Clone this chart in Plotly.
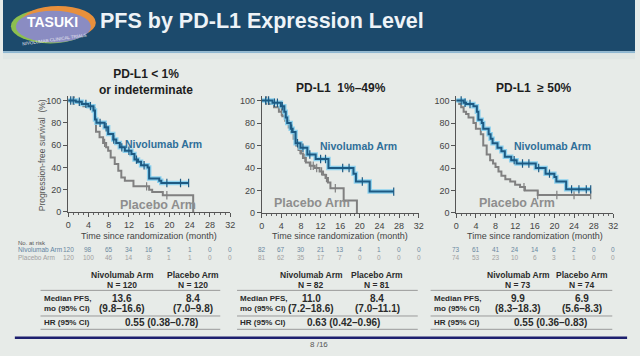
import numpy as np
import plotly.graph_objects as go

W, H = 640, 356
FONT = "Liberation Sans"

# ---------------- data ----------------
tick_months = [0, 4, 8, 12, 16, 20, 24, 28, 32]
y_ticks = [0, 20, 40, 60, 80, 100]

panel_titles = ["<b>PD-L1 < 1%</b><br><b>or indeterminate</b>", "<b>PD-L1  1%–49%</b>", "<b>PD-L1  ≥ 50%</b>"]

# Panel 1: PD-L1 < 1% or indeterminate
p1_nivo_t = [0, 1.5, 2.7, 4.0, 5.0, 5.3, 5.6, 7.2, 7.9, 8.9, 9.5, 10.2, 11.2, 12.5, 13.1, 13.8, 14.4, 15.7, 16.0, 18.0, 18.4, 23.8]
p1_nivo_s = [100, 99, 97, 95, 91, 83, 80, 76, 70, 65, 62, 58, 55, 52, 47, 45, 42, 40, 30, 28, 26, 26]
p1_plac_t = [0, 1.8, 3.0, 4.6, 5.3, 5.5, 6.2, 6.9, 7.5, 7.9, 8.4, 9.2, 9.9, 10.5, 11.2, 12.9, 16.0, 16.6, 18.7, 24.7]
p1_plac_s = [100, 98, 95, 93, 85, 72, 67, 62, 58, 55, 49, 43, 37, 31, 28, 23, 20, 18, 15, 0]
p1_nivo_cens = [0.5, 1.0, 2.2, 3.5, 4.4, 6.3, 7.5, 9.0, 10.6, 12.0, 13.5, 15.0, 19.5, 22.2, 23.8]
p1_plac_cens = [1.2, 5.0, 7.2, 15.5, 19.5]

# Panel 2: PD-L1 1%-49%
p2_nivo_t = [0, 2.2, 3.9, 4.6, 4.9, 5.2, 5.9, 6.3, 6.9, 7.9, 9.3, 11.0, 13.6, 18.7, 19.2, 22.0, 26.9]
p2_nivo_s = [100, 98, 95, 90, 85, 80, 75, 72, 62, 58, 52, 48, 40, 35, 28, 19, 19]
p2_plac_t = [0, 1.5, 2.5, 3.5, 4.2, 4.8, 5.5, 6.0, 6.5, 7.0, 7.5, 8.0, 8.4, 9.0, 9.8, 10.8, 11.8, 12.5, 13.0, 13.5, 14.0, 16.7, 19.4]
p2_plac_s = [100, 97, 94, 90, 86, 82, 76, 72, 66, 60, 56, 53, 49, 45, 42, 40, 37, 34, 31, 27, 22, 11, 0]
p2_nivo_cens = [0.8, 1.4, 2.6, 3.2, 4.2, 6.1, 7.3, 8.4, 9.8, 12.0, 13.0, 16.5, 17.8, 20.5, 26.9]
p2_plac_cens = [1.0, 4.0, 7.8, 8.8, 10.0, 10.5, 11.2, 12.2, 13.2, 15.0]

# Panel 3: PD-L1 >= 50%
p3_nivo_t = [0, 1.5, 2.0, 3.5, 4.2, 4.5, 5.2, 5.5, 6.6, 7.0, 7.4, 8.4, 9.2, 9.9, 11.2, 12.3, 16.2, 18.2, 20.0, 20.4, 22.4, 27.4]
p3_nivo_s = [100, 98, 97, 95, 90, 83, 80, 75, 70, 66, 62, 58, 55, 50, 47, 44, 40, 35, 32, 28, 21, 21]
p3_plac_t = [0, 0.6, 1.0, 1.5, 2.0, 2.5, 3.5, 4.0, 5.0, 5.5, 6.2, 6.9, 7.5, 8.0, 8.6, 9.2, 10.0, 11.0, 12.0, 13.0, 14.0, 16.6, 27.4]
p3_plac_s = [100, 97, 94, 90, 88, 85, 80, 75, 70, 60, 52, 47, 44, 41, 37, 33, 30, 28, 25, 23, 20, 16, 16]
p3_nivo_cens = [1.0, 1.8, 2.8, 11.8, 13.5, 14.8, 16.8, 19.0, 23.5, 25.0, 26.5, 27.4]
p3_plac_cens = [13.8, 16.6, 20.5, 24.0, 27.4]

# Numbers at risk
p1_risk_nivo = [120, 98, 65, 34, 16, 5, 1, 0, 0]
p1_risk_plac = [120, 100, 46, 14, 8, 1, 1, 0, 0]
p2_risk_nivo = [82, 67, 30, 21, 13, 4, 1, 0, 0]
p2_risk_plac = [81, 62, 35, 17, 7, 0, 0, 0, 0]
p3_risk_nivo = [73, 61, 41, 24, 14, 6, 2, 0, 0]
p3_risk_plac = [74, 53, 23, 10, 6, 3, 1, 0, 0]

# Tables
n_nivo = [120, 82, 73]
n_plac = [120, 81, 74]
median_nivo = ["13.6", "11.0", "9.9"]
median_nivo_ci = ["(9.8–16.6)", "(7.2–18.6)", "(8.3–18.3)"]
median_plac = ["8.4", "8.4", "6.9"]
median_plac_ci = ["(7.0–9.8)", "(7.0–11.1)", "(5.6–8.3)"]
hr_text = ["0.55 (0.38–0.78)", "0.63 (0.42–0.96)", "0.55 (0.36–0.83)"]

# ---------------- layout helpers ----------------
def fx(p):
    return p / W

def fy(p):
    return 1 - p / H

panels = [
    dict(x0=66, x1=230, py0=215, py100=102, tcx=145, tcy=[76, 90],
         nivo=(p1_nivo_t, p1_nivo_s, p1_nivo_cens), plac=(p1_plac_t, p1_plac_s, p1_plac_cens),
         risk=(p1_risk_nivo, p1_risk_plac), nlab=(18.9, 61), plab=(17.7, 6),
         tbl=dict(l=38, r=220, cn=121, cp=192, chr=161)),
    dict(x0=262, x1=421, py0=216, py100=102, tcx=342, tcy=[89],
         nivo=(p2_nivo_t, p2_nivo_s, p2_nivo_cens), plac=(p2_plac_t, p2_plac_s, p2_plac_cens),
         risk=(p2_risk_nivo, p2_risk_plac), nlab=(19.7, 60), plab=(10.3, 9),
         tbl=dict(l=237, r=420, cn=312, cp=379, chr=345)),
    dict(x0=459, x1=618, py0=216, py100=102, tcx=538, tcy=[89],
         nivo=(p3_nivo_t, p3_nivo_s, p3_nivo_cens), plac=(p3_plac_t, p3_plac_s, p3_plac_cens),
         risk=(p3_risk_nivo, p3_risk_plac), nlab=(19.6, 60), plab=(12.3, 9),
         tbl=dict(l=433, r=617, cn=522, cp=586, chr=554)),
]

NIVO_C = "#1d5a83"
NIVO_GLOW = "rgba(125,205,238,0.85)"
PLAC_C = "#808080"
BG = "#e7ebe8"
TXT = "#2b2b2b"

fig = go.Figure()
annotations = []
shapes = []
layout_axes = {}


def ann(x, y, text, font, xanchor="center", **kw):
    d = dict(x=fx(x), y=fy(y), xref="paper", yref="paper", showarrow=False, text=text, font=font,
             xanchor=xanchor, yanchor="middle", borderpad=0)
    d.update(kw)
    annotations.append(d)


def step_at(t, s, c):
    i = np.searchsorted(np.array(t), c, side="right") - 1
    return s[max(i, 0)]


for k, p in enumerate(panels):
    idx = "" if k == 0 else str(k + 1)
    xa, ya = "x" + idx, "y" + idx
    ytop_px = p["py0"] - 1.04 * (p["py0"] - p["py100"])
    layout_axes["xaxis" + idx] = dict(
        domain=[fx(p["x0"]), fx(p["x1"])], range=[0, 32], anchor=ya,
        tickvals=tick_months, ticks="outside", ticklen=4, tickcolor="#555",
        showline=True, linecolor="#555", linewidth=1, showgrid=False, zeroline=False,
        tickfont=dict(family=FONT, size=9, color="#444"),
        minor=dict(dtick=1, ticks="outside", ticklen=2, tickcolor="#666"),
        fixedrange=True)
    layout_axes["yaxis" + idx] = dict(
        domain=[fy(p["py0"]), fy(ytop_px)], range=[0, 104], anchor=xa,
        tickvals=y_ticks, ticks="outside", ticklen=4, tickcolor="#555",
        showline=True, linecolor="#555", linewidth=1, showgrid=False, zeroline=False,
        tickfont=dict(family=FONT, size=9, color="#444"), fixedrange=True)

    nt, ns, nc = p["nivo"]
    pt, ps, pc = p["plac"]
    # placebo
    fig.add_trace(go.Scatter(x=pt, y=ps, mode="lines", line=dict(color=PLAC_C, width=2, shape="hv"),
                             xaxis=xa, yaxis=ya, hoverinfo="skip"))
    fig.add_trace(go.Scatter(x=pc, y=[step_at(pt, ps, c) for c in pc], mode="markers",
                             marker=dict(symbol="line-ns-open", size=6, color=PLAC_C,
                                         line=dict(color=PLAC_C, width=1.2)),
                             xaxis=xa, yaxis=ya, hoverinfo="skip"))
    # nivolumab with glow
    fig.add_trace(go.Scatter(x=nt, y=ns, mode="lines", line=dict(color=NIVO_GLOW, width=4.5, shape="hv"),
                             xaxis=xa, yaxis=ya, hoverinfo="skip"))
    fig.add_trace(go.Scatter(x=nt, y=ns, mode="lines", line=dict(color=NIVO_C, width=2, shape="hv"),
                             xaxis=xa, yaxis=ya, hoverinfo="skip"))
    fig.add_trace(go.Scatter(x=nc, y=[step_at(nt, ns, c) for c in nc], mode="markers",
                             marker=dict(symbol="line-ns-open", size=6, color=NIVO_C,
                                         line=dict(color=NIVO_C, width=1.2)),
                             xaxis=xa, yaxis=ya, hoverinfo="skip"))

    # curve labels
    annotations.append(dict(x=p["nlab"][0], y=p["nlab"][1], xref=xa, yref=ya, showarrow=False,
                            xanchor="center", yanchor="middle",
                            text="<b>Nivolumab Arm</b>", font=dict(family=FONT, size=10.5, color="#2f6f99")))
    annotations.append(dict(x=p["plab"][0], y=p["plab"][1], xref=xa, yref=ya, showarrow=False,
                            xanchor="center", yanchor="middle",
                            text="<b>Placebo Arm</b>", font=dict(family=FONT, size=12.5, color="#8e8e8e")))

    # panel title
    tfont = dict(family=FONT, size=12, color="#1e1e1e")
    if len(p["tcy"]) == 2:
        ann(p["tcx"], sum(p["tcy"]) / 2, panel_titles[k], tfont, align="center")
    else:
        ann(p["tcx"], p["tcy"][0], panel_titles[k], tfont)

    # x axis title
    ann((p["x0"] + p["x1"]) / 2, 239, "Time since randomization (month)",
        dict(family=FONT, size=9, color="#444"))

    # numbers at risk
    rn, rp = p["risk"]
    for m, a, b in zip(tick_months, rn, rp):
        annotations.append(dict(x=m, y=fy(253), xref=xa, yref="paper", showarrow=False, text=str(a),
                                xanchor="center", yanchor="middle",
                                font=dict(family=FONT, size=6.5, color="#6a87a0")))
        annotations.append(dict(x=m, y=fy(261), xref=xa, yref="paper", showarrow=False, text=str(b),
                                xanchor="center", yanchor="middle",
                                font=dict(family=FONT, size=6.5, color="#a0a0a0")))

    # table
    t = p["tbl"]
    hdr_font = dict(family=FONT, size=8.5, color=TXT)
    val_font = dict(family=FONT, size=10, color=TXT)
    lab_font = dict(family=FONT, size=8, color=TXT)
    for cx, lab, nval in [(t["cn"], "Nivolumab Arm", n_nivo[k]), (t["cp"], "Placebo Arm", n_plac[k])]:
        ann(cx, 279, "<b>" + lab + "</b>", hdr_font)
        ann(cx, 289, "<b>N = %d</b>" % nval, hdr_font)
    ann(t["l"] + 2, 303, "<b>Median PFS,</b>", lab_font, xanchor="left")
    ann(t["l"] + 2, 313, "<b>mo (95% CI)</b>", lab_font, xanchor="left")
    ann(t["l"] + 2, 327.5, "<b>HR (95% CI)</b>", lab_font, xanchor="left")
    ann(t["cn"], 302.5, "<b>" + median_nivo[k] + "</b>", val_font)
    ann(t["cn"], 313, "<b>" + median_nivo_ci[k] + "</b>", val_font)
    ann(t["cp"], 302.5, "<b>" + median_plac[k] + "</b>", val_font)
    ann(t["cp"], 313, "<b>" + median_plac_ci[k] + "</b>", val_font)
    ann(t["chr"], 327.5, "<b>" + hr_text[k] + "</b>", val_font)
    for ly in [294.5, 320.5, 334]:
        shapes.append(dict(type="line", xref="paper", yref="paper", x0=fx(t["l"]), x1=fx(t["r"]),
                           y0=fy(ly), y1=fy(ly), line=dict(color="#9a9a9a", width=1)))

# y-axis title (panel 1 only)
ann(39, 158, "Progression-free survival  (%)", dict(family=FONT, size=8.5, color="#555"), textangle=-90)

# at risk labels
ann(14, 246, "No. at risk", dict(family=FONT, size=6, color="#555"), xanchor="left")
ann(14, 253, "Nivolumab Arm", dict(family=FONT, size=6.5, color="#5f84a3"), xanchor="left")
ann(14, 261, "Placebo Arm", dict(family=FONT, size=6.5, color="#a0a0a0"), xanchor="left")

# header band
shapes.insert(0, dict(type="rect", xref="paper", yref="paper", x0=0, x1=1, y0=fy(52), y1=1,
                      fillcolor="#1c4a6c", line=dict(width=0), layer="below"))
shapes.insert(1, dict(type="rect", xref="paper", yref="paper", x0=0, x1=1, y0=fy(54), y1=fy(52),
                      fillcolor="#8db7d2", line=dict(width=0), layer="below"))
shapes.insert(2, dict(type="rect", xref="paper", yref="paper", x0=0, x1=1, y0=fy(60), y1=fy(54),
                      fillcolor="#dfe6e4", line=dict(width=0), layer="below"))

# logo swoosh
shapes.append(dict(type="circle", xref="paper", yref="paper", x0=fx(8), x1=fx(88), y0=fy(44), y1=fy(9),
                   fillcolor="#8cbf4f", line=dict(width=0)))
shapes.append(dict(type="circle", xref="paper", yref="paper", x0=fx(18), x1=fx(94), y0=fy(40), y1=fy(6),
                   fillcolor="#e8903c", line=dict(width=0)))
shapes.append(dict(type="circle", xref="paper", yref="paper", x0=fx(13), x1=fx(89), y0=fy(43), y1=fy(11),
                   fillcolor="#8a8cc2", line=dict(width=0)))
ann(50, 22, "<b>TASUKI</b>", dict(family=FONT, size=14, color="white"))
ann(52, 40, "NIVOLUMAB CLINICAL TRIALS", dict(family=FONT, size=4.5, color="#e8e8f0"), textangle=-8)

# title
ann(262, 21, "<b>PFS by PD-L1 Expression Level</b>", dict(family=FONT, size=21.5, color="#eef3f7"))

# footer
shapes.append(dict(type="line", xref="paper", yref="paper", x0=fx(12), x1=fx(632), y0=fy(342.5), y1=fy(342.5),
                   line=dict(color="#1d1f6e", width=2.5)))
ann(320, 349, "8 /16", dict(family=FONT, size=8, color="#555"))

fig.update_layout(
    width=W, height=H, margin=dict(l=0, r=0, t=0, b=0),
    paper_bgcolor=BG, plot_bgcolor="rgba(0,0,0,0)",
    showlegend=False, hovermode=False,
    annotations=annotations, shapes=shapes,
    font=dict(family=FONT),
    **layout_axes)

fig.write_html("out.html", config=dict(displayModeBar=False),
               post_script="document.body.style.margin='0';document.body.style.overflow='hidden';")
